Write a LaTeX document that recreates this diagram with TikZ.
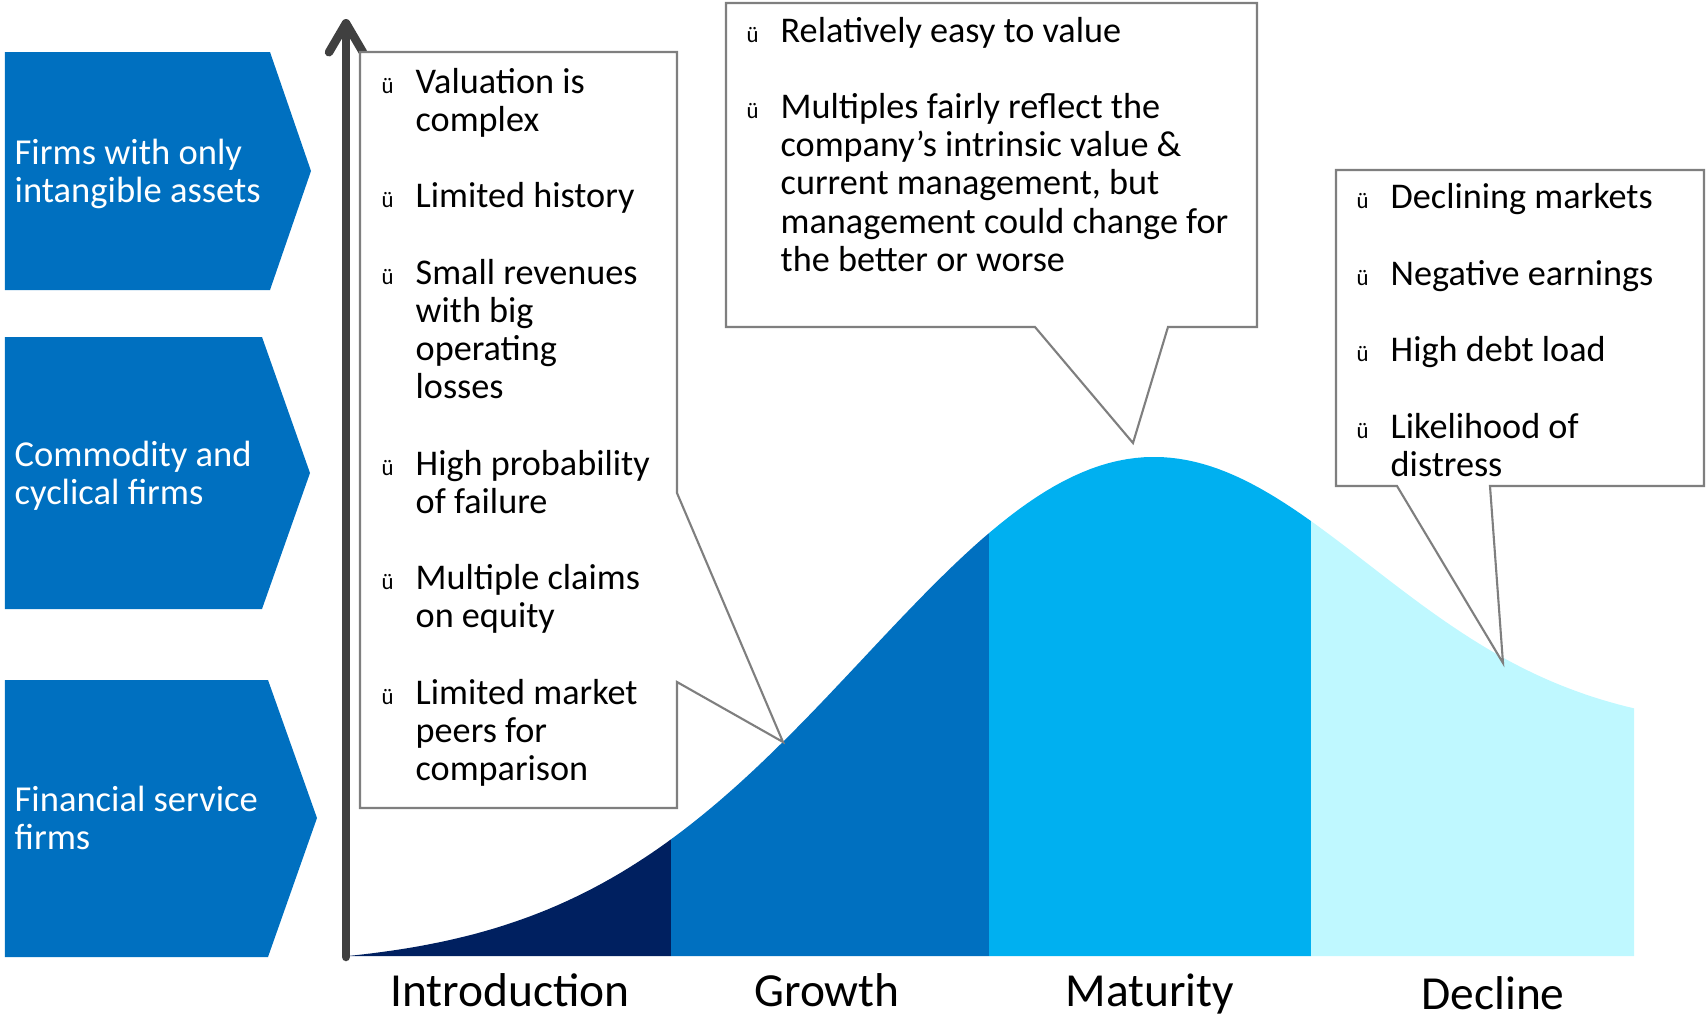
\documentclass[tikz,border=0pt]{standalone}
\usepackage{fontspec}
\setmainfont{Carlito}
\usetikzlibrary{arrows.meta}

\definecolor{introblue}{HTML}{002060}
\definecolor{growthblue}{HTML}{0070C0}
\definecolor{maturityblue}{HTML}{00B0F0}
\definecolor{declineblue}{HTML}{BFF8FF}
\definecolor{axisgray}{HTML}{404040}
\definecolor{boxgray}{HTML}{7F7F7F}

% small tick in front of each point
\newcommand{\chk}{\makebox[3.4mm][l]{\fontsize{6.5}{6.5}\selectfont ü}}

\begin{document}
\begin{tikzpicture}[x=0.1mm, y=-0.1mm,
    firm/.style={anchor=west, inner sep=0pt, align=left, text=white,
        font=\fontsize{10.4}{10.87}\selectfont},
    callout/.style={draw=boxgray, line width=0.6pt, fill=white},
    points/.style={anchor=base west, inner sep=0pt,
        font=\fontsize{10.3}{10.87}\selectfont},
    stage/.style={anchor=base, inner sep=0pt,
        font=\fontsize{13.5}{16}\selectfont}]

\useasboundingbox (0,0) rectangle (1706,1021);

% firm types
\foreach \ya/\yb/\xs/\xp/\ym in {52/290/270/311/171, 337/609/262/310/473, 680/957/268/317/818}
  \fill[growthblue] (5,\ya) -- (\xs,\ya) -- (\xp,\ym) -- (\xs,\yb) -- (5,\yb) -- cycle;
\node[firm] (intangible) at (14,174) {Firms with only\\intangible assets};
\node[firm] (cyclical) at (14,476) {Commodity and\\cyclical firms};
\node[firm] (financial) at (14,818) {Financial service\\firms};

% life cycle curve, one colour per stage
\foreach \xa/\xb/\col in {348/671/introblue, 671/989/growthblue, 989/1311/maturityblue, 1311/1634/declineblue}{
  \begin{scope}
    \clip (\xa,0) rectangle (\xb,1021);
    \fill[\col] (348,956)
      -- plot[domain=348:1154, samples=90] (\x, {956 - 499*(exp(-((\x-1154)/290)^2/2) - 0.021)/0.979})
      -- plot[domain=1154:1634, samples=60] (\x, {731 - 274*exp(-((\x-1154)/215)^2/2)})
      -- (1634,956) -- cycle;
  \end{scope}
}

% axis
\draw[axisgray, line width=0.85mm, line cap=round,
  -{Straight Barb[length=2.9mm, width=3.4mm, round]}] (346,957) -- (346,19);

% callouts
\coordinate (introtip) at (783,742);
\coordinate (maturetip) at (1133,443);
\coordinate (declinetip) at (1503,663);
\draw[callout] (360,52) -- (677,52) -- (677,493) -- (introtip) -- (677,682)
  -- (677,808) -- (360,808) -- cycle;
\draw[callout] (726,3) -- (1257,3) -- (1257,327) -- (1168,327) -- (maturetip)
  -- (1035,327) -- (726,327) -- cycle;
\draw[callout] (1336,170) -- (1704,170) -- (1704,486) -- (1490,486) -- (declinetip)
  -- (1397,486) -- (1336,486) -- cycle;

\node[points] (introtext) at (381,93) {\begin{tabular}[t]{@{}l@{}l@{}}
  \chk & Valuation is\\
       & complex\\
       & \\
  \chk & Limited history\\
       & \\
  \chk & Small revenues\\
       & with big\\
       & operating\\
       & losses\\
       & \\
  \chk & High probability\\
       & of failure\\
       & \\
  \chk & Multiple claims\\
       & on equity\\
       & \\
  \chk & Limited market\\
       & peers for\\
       & comparison
\end{tabular}};

\node[points] (maturetext) at (746,42) {\begin{tabular}[t]{@{}l@{}l@{}}
  \chk & Relatively easy to value\\
       & \\
  \chk & Multiples fairly reflect the\\
       & company’s intrinsic value \&\\
       & current management, but\\
       & management could change for\\
       & the better or worse
\end{tabular}};

\node[points] (declinetext) at (1356,209) {\begin{tabular}[t]{@{}l@{}l@{}}
  \chk & Declining markets\\
       & \\
  \chk & Negative earnings\\
       & \\
  \chk & High debt load\\
       & \\
  \chk & Likelihood of\\
       & distress
\end{tabular}};

% stages
\node[stage] (intro) at (510,1006) {Introduction};
\node[stage] (growth) at (827,1006) {Growth};
\node[stage] (maturity) at (1150,1006) {Maturity};
\node[stage] (decline) at (1493,1009) {Decline};

\end{tikzpicture}
\end{document}
